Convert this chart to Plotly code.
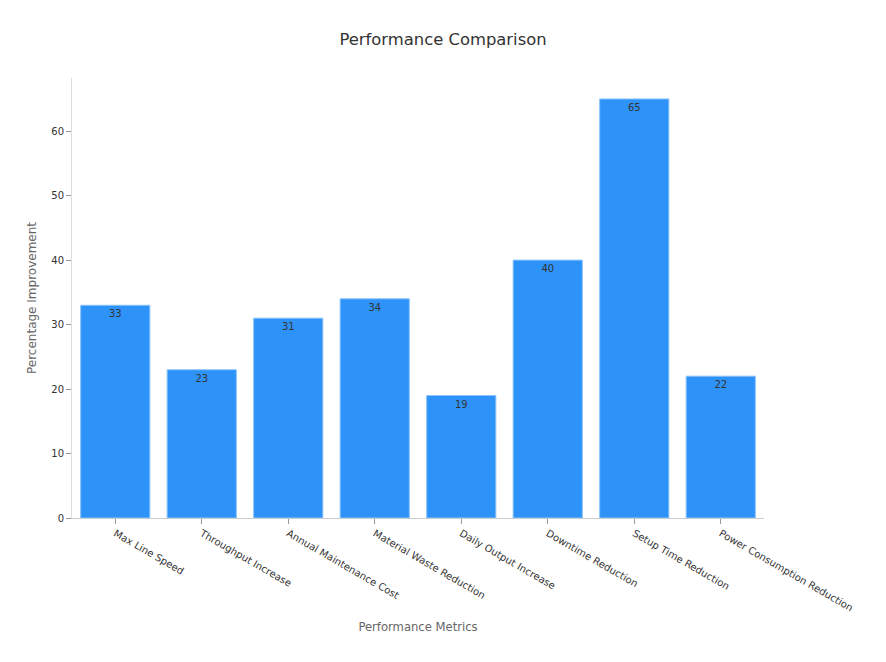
import plotly.graph_objects as go

categories = ["Max Line Speed", "Throughput Increase", "Annual Maintenance Cost",
              "Material Waste Reduction", "Daily Output Increase", "Downtime Reduction",
              "Setup Time Reduction", "Power Consumption Reduction"]
values = [33, 23, 31, 34, 19, 40, 65, 22]

fig = go.Figure(go.Bar(
    x=categories, y=values,
    text=[str(v) for v in values],
    textposition="inside", insidetextanchor="end",
    textfont=dict(size=10, color="#333333", family="DejaVu Sans"),
    marker=dict(color="#2E93F9", line=dict(color="#8cc4fb", width=1)),
))

fig.update_layout(
    width=886, height=662,
    paper_bgcolor="white", plot_bgcolor="white",
    font=dict(family="DejaVu Sans", color="#333333"),
    title=dict(text="Performance Comparison", x=(443 - 8) / 886, xanchor="center",
               y=1 - 31 / 662, yanchor="middle",
               font=dict(size=16.4, color="#333333")),
    margin=dict(l=64, r=130, t=70, b=152),
    bargap=0.2,
    showlegend=False,
)
fig.update_xaxes(
    tickangle=30, tickfont=dict(size=10, color="#333333"),
    showline=True, linecolor="#cccccc", ticks="outside", tickcolor="#999999", ticklen=5,
    showgrid=False,
    title=dict(text="Performance Metrics", font=dict(size=11.6, color="#666666"), standoff=10),
)
fig.update_yaxes(
    range=[0, 68.25], dtick=10, tickfont=dict(size=10, color="#333333"),
    showline=True, linecolor="#dddddd", ticks="outside", tickcolor="#999999", ticklen=5,
    showgrid=False, zeroline=False,
    title=dict(text="Percentage Improvement", font=dict(size=12, color="#666666"), standoff=12),
)

fig.write_html("out.html")
